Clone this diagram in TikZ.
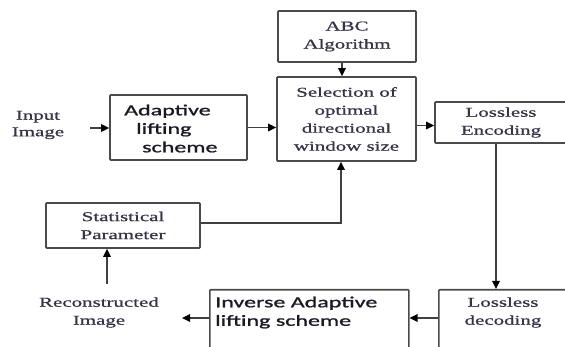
\documentclass[tikz,border=0pt]{standalone}
\usepackage{fontspec}
\setmainfont[FakeStretch=1.55,FakeBold=0.8]{Liberation Serif}
\newfontfamily\calfont[FakeStretch=1.55,FakeBold=1.2]{Carlito}
\usetikzlibrary{arrows.meta}
\definecolor{boxgray}{HTML}{4A4A4A}
\definecolor{linegray}{HTML}{404040}
\definecolor{sertext}{HTML}{353345}
\definecolor{sanstext}{HTML}{1A1A24}
\begin{document}
\begin{tikzpicture}[x=1pt,y=-1pt,
  box/.style={draw=boxgray, line width=1.6pt, rounded corners=0.8pt, inner sep=0pt},
  serif/.style={font=\fontsize{13.5}{18}\selectfont, text=sertext, align=center, inner sep=0pt},
  sans/.style={font=\calfont\fontsize{15.5}{18.5}\selectfont, text=sanstext, align=left, inner sep=0pt},
  conn/.style={draw=linegray, line width=1.5pt, -{Triangle[length=8pt,width=7.5pt,color=black]}}]
\useasboundingbox (0,0) rectangle (565,347);
\clip (0,0) rectangle (565,347);
% boxes
\node[box, serif, minimum width=138, minimum height=51] (abc) at (347,36.5) {ABC\\Algorithm};
\node[box, serif, minimum width=139, minimum height=84] (sel) at (346.5,119) {Selection of\\optimal\\directional\\window size};
\node[box, minimum width=137, minimum height=65] (adapt) at (178.5,127.5) {};
\node[sans, anchor=west] (adapttxt) at (124,128.5) {Adaptive\\\hspace*{12pt}lifting\\\hspace*{18pt}scheme};
\node[box, serif, minimum width=132, minimum height=41] (enc) at (501,122.5) {Lossless\\Encoding};
\node[box, serif, minimum width=154, minimum height=45] (stat) at (123,225.5) {Statistical\\Parameter};
\node[box, minimum width=199, minimum height=70, anchor=north west] (inv) at (209,289) {};
\node[sans, anchor=west] (invtxt) at (215,312.5) {Inverse Adaptive\\lifting scheme};
\node[box, minimum width=130, minimum height=70, anchor=north west] (dec) at (438,289) {};
\node[serif] (dectxt) at (503,312.5) {Lossless\\decoding};
% free texts
\node[serif, font=\fontsize{13.5}{16.5}\selectfont] (inp) at (38,125) {Input\\Image};
\node[serif] (rec) at (99,312.5) {Reconstructed\\Image};
% connectors
\coordinate (inS) at (90,128);
\coordinate (recE) at (182,318);
\coordinate (recUp) at (107,284);
\draw[conn] (inS) -- (inS -| adapt.west);
\draw[conn] (adapt.east) -- (adapt.east -| sel.west);
\draw[conn] (abc.south -| 342,0) -- (sel.north -| 342,0);
\draw[conn] (sel.east |- 0,125.5) -- (enc.west |- 0,125.5);
\draw[conn] (enc.south -| 496,0) -- (dec.north -| 496,0);
\draw[conn] (dec.west |- 0,318) -- (inv.east |- 0,318);
\draw[conn] (inv.west |- 0,318) -- (recE);
\draw[conn] (recUp) -- (stat.south -| 107,0);
\draw[conn] (stat.east |- 0,223) -| (sel.south -| 341,0);
\end{tikzpicture}
\end{document}
